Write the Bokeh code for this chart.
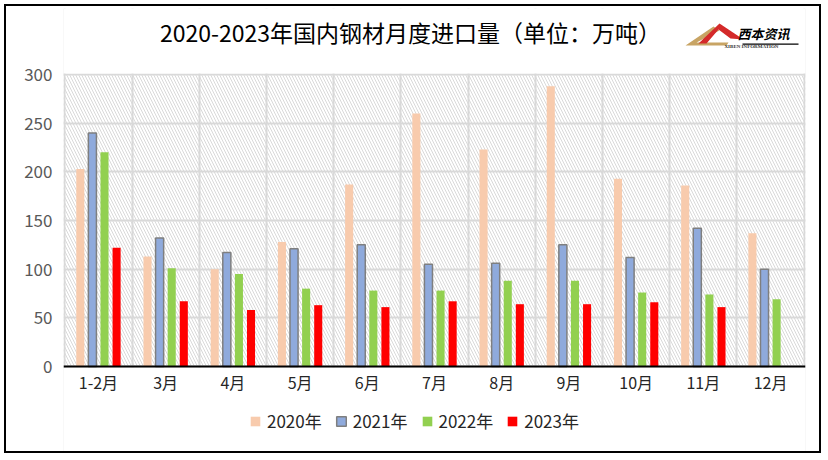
from bokeh.plotting import figure
from bokeh.models import (Range1d, FixedTicker, BoxAnnotation, PolyAnnotation, Legend,
                          LegendItem, ColumnDataSource, Label)
from bokeh.transform import dodge
from bokeh.embed import file_html
from bokeh.resources import INLINE

months = ["1-2月", "3月", "4月", "5月", "6月", "7月", "8月", "9月", "10月", "11月", "12月"]
y2020 = [203, 113, 100, 128, 187, 260, 223, 288, 193, 186, 137]
y2021 = [240, 132, 117, 121, 125, 105, 106, 125, 112, 142, 100]
y2022 = [220, 101, 95, 80, 78, 78, 88, 88, 76, 74, 69]
y2023 = [122, 67, 58, 63, 61, 67, 64, 64, 66, 61, float("nan")]
series_names = ["2020年", "2021年", "2022年", "2023年"]
y_ticks = [0, 50, 100, 150, 200, 250, 300]
Y_MAX = 300
title_text = "2020-2023年国内钢材月度进口量（单位：万吨）"

FONT = "Noto Sans CJK SC"

# layout: the frame spans nearly the whole chart; title, logo and legend sit inside it,
# the x axis is drawn at y = 0 (fixed_location)
PX_PER_UNIT = 292 / Y_MAX
y_top = 358 / PX_PER_UNIT          # frame top is 358 px above the zero line
y_bottom = -85 / PX_PER_UNIT       # frame bottom is 85 px below the zero line

xpos = [i + 0.5 for i in range(len(months))]
source = ColumnDataSource(dict(x=xpos, y2020=y2020, y2021=y2021, y2022=y2022, y2023=y2023))

p = figure(width=813, height=445, x_range=Range1d(-0.02, len(months) + 0.02),
           y_range=Range1d(y_bottom, y_top), title=None,
           output_backend="svg", toolbar_location=None,
           min_border_left=57, min_border_right=14, min_border_top=2, min_border_bottom=0)
p.outline_line_color = None
p.background_fill_color = "white"

# hatched plot background (0..300 only)
hatch = BoxAnnotation(bottom=0, top=Y_MAX, fill_color="white", fill_alpha=1.0, line_color=None,
                      hatch_pattern="\\", hatch_color="#d9d9d9", hatch_scale=6,
                      hatch_weight=1, level="image")
p.add_layout(hatch)

colors = ["#F8CBAD", "#8FAADC", "#92D050", "#FF0000"]
line_colors = [None, "#7F7F7F", None, None]
offsets = [-0.27, -0.09, 0.09, 0.27]
cols = ["y2020", "y2021", "y2022", "y2023"]
renderers = []
for c, col, lc, off in zip(cols, colors, line_colors, offsets):
    r = p.vbar(x=dodge("x", off), top=c, width=0.12, bottom=0, source=source,
               fill_color=col, line_color=lc, line_width=1.5)
    renderers.append(r)

# axes
p.xaxis.fixed_location = 0
p.xaxis.ticker = FixedTicker(ticks=xpos)
p.xaxis.major_label_overrides = {x: m for x, m in zip(xpos, months)}
p.xaxis.major_tick_line_color = None
p.xaxis.minor_tick_line_color = None
p.xaxis.major_tick_out = 0
p.xaxis.minor_tick_out = 0
p.xaxis.axis_line_color = "black"
p.xaxis.axis_line_width = 2
p.xaxis.major_label_text_font = FONT
p.xaxis.major_label_text_font_size = "16px"
p.xaxis.major_label_text_color = "#262626"
p.xaxis.major_label_standoff = 3

p.yaxis.ticker = FixedTicker(ticks=y_ticks)
p.yaxis.axis_line_color = None
p.yaxis.major_tick_line_color = None
p.yaxis.minor_tick_line_color = None
p.yaxis.major_tick_out = 0
p.yaxis.minor_tick_out = 0
p.yaxis.major_label_text_font = FONT
p.yaxis.major_label_text_font_size = "17px"
p.yaxis.major_label_text_color = "#595959"
p.yaxis.major_label_standoff = 11

p.xgrid.ticker = FixedTicker(ticks=list(range(len(months) + 1)))
p.xgrid.grid_line_color = "#d9d9d9"
p.xgrid.grid_line_width = 2
p.ygrid.grid_line_color = "#d9d9d9"
p.ygrid.grid_line_width = 2

# white covers above 300 and below 0 (hide vertical grid lines there)
cover_top = BoxAnnotation(bottom=Y_MAX + 1, fill_color="white", fill_alpha=1.0,
                          line_color=None, level="underlay")
cover_bottom = BoxAnnotation(top=-1, fill_color="white", fill_alpha=1.0,
                             line_color=None, level="underlay")
p.add_layout(cover_top)
p.add_layout(cover_bottom)

# title
title = Label(x=404, y=25, x_units="canvas", y_units="canvas", text=title_text,
              text_font=FONT, text_font_size="23px", text_color="black",
              text_align="center", text_baseline="middle")
p.add_layout(title)

# legend (inside the frame, below the axis labels)
legend = Legend(items=[LegendItem(label=n, renderers=[r]) for n, r in zip(series_names, renderers)],
                orientation="horizontal", location=(186, 18), padding=0, margin=0,
                spacing=13, glyph_width=12, glyph_height=12, label_standoff=6,
                label_text_font=FONT, label_text_font_size="17px", label_text_color="#262626",
                border_line_color=None, background_fill_alpha=0)
p.add_layout(legend)

# logo (canvas pixels)
gold = PolyAnnotation(xs=[679, 707, 713, 690, 722, 720], ys=[39, 20, 24, 36, 36, 39],
                      xs_units="canvas", ys_units="canvas",
                      fill_color="#C8A464", fill_alpha=1, line_color=None)
red = PolyAnnotation(xs=[692, 713, 737, 724, 712, 700], ys=[37, 17, 33, 32, 23, 37],
                     xs_units="canvas", ys_units="canvas",
                     fill_color="#D42A2A", fill_alpha=1, line_color=None)
p.add_layout(gold)
p.add_layout(red)
underline = BoxAnnotation(left=736, right=792, top=37, bottom=38.2,
                          left_units="canvas", right_units="canvas",
                          top_units="canvas", bottom_units="canvas",
                          fill_color="black", fill_alpha=1, line_color=None)
p.add_layout(underline)
logo = Label(x=757, y=27, x_units="canvas", y_units="canvas", text="西本资讯",
             text_font=FONT, text_font_size="13px", text_font_style="bold italic",
             text_color="black", text_align="center", text_baseline="middle")
p.add_layout(logo)
sub = Label(x=718, y=40, x_units="canvas", y_units="canvas", text="XIBEN INFORMATION",
            text_font="Liberation Serif", text_font_size="5px", text_font_style="bold",
            text_color="#333333", text_baseline="middle")
p.add_layout(sub)

html = file_html(p, INLINE)
frame_css = ("<style>html, body { margin: 0; } body { margin: 4px !important; "
             "border: 2px solid black; box-sizing: border-box !important; "
             "width: 817px; height: 449px !important; }</style>")
html = html.replace("</head>", frame_css + "</head>", 1)
open("out.html", "w").write(html)
